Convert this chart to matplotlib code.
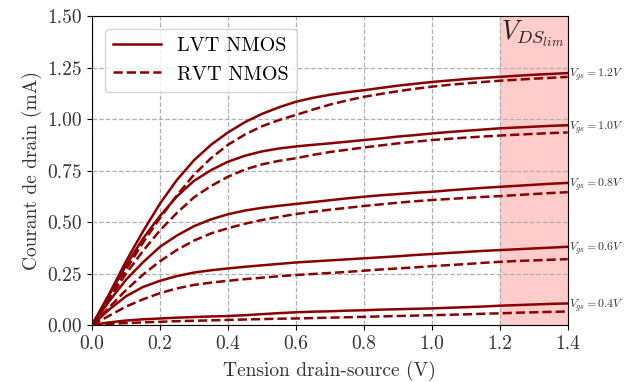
import matplotlib.pyplot as plt
import numpy as np

plt.rcParams['font.family'] = 'serif'
plt.rcParams['font.serif'] = ['cmr10']
plt.rcParams['mathtext.fontset'] = 'cm'
plt.rcParams['axes.formatter.use_mathtext'] = True

# drain-source sweep, 0 to 1.4 V by 0.05 V
vds = np.round(np.arange(0, 1.401, 0.05), 2)
vgs_labels = ["0.4", "0.6", "0.8", "1.0", "1.2"]

# drain current (mA), one row per Vgs
lvt = [
    [0, 0.013, 0.022, 0.028, 0.032, 0.036, 0.039, 0.042, 0.044, 0.048, 0.053, 0.058, 0.062, 0.065, 0.067,
     0.070, 0.072, 0.075, 0.077, 0.079, 0.081, 0.084, 0.087, 0.090, 0.094, 0.097, 0.100, 0.103, 0.105],
    [0, 0.075, 0.14, 0.185, 0.215, 0.238, 0.255, 0.266, 0.275, 0.283, 0.29, 0.297, 0.304, 0.309, 0.314,
     0.319, 0.324, 0.329, 0.334, 0.34, 0.345, 0.35, 0.355, 0.36, 0.364, 0.368, 0.372, 0.376, 0.38],
    [0, 0.115, 0.22, 0.305, 0.38, 0.435, 0.48, 0.513, 0.538, 0.556, 0.569, 0.579, 0.588, 0.597, 0.606,
     0.615, 0.623, 0.63, 0.636, 0.642, 0.647, 0.654, 0.66, 0.666, 0.671, 0.676, 0.681, 0.686, 0.69],
    [0, 0.145, 0.29, 0.42, 0.53, 0.625, 0.70, 0.752, 0.793, 0.822, 0.843, 0.857, 0.867, 0.875, 0.882,
     0.89, 0.898, 0.906, 0.915, 0.922, 0.93, 0.937, 0.943, 0.949, 0.955, 0.959, 0.963, 0.967, 0.97],
    [0, 0.15, 0.31, 0.455, 0.59, 0.705, 0.80, 0.875, 0.935, 0.985, 1.025, 1.057, 1.084, 1.103, 1.118,
     1.13, 1.14, 1.151, 1.162, 1.171, 1.18, 1.187, 1.194, 1.2, 1.205, 1.21, 1.215, 1.219, 1.223],
]
rvt = [
    [0, 0.006, 0.010, 0.013, 0.016, 0.019, 0.021, 0.023, 0.025, 0.027, 0.029, 0.031, 0.032, 0.034, 0.036,
     0.038, 0.040, 0.042, 0.044, 0.046, 0.048, 0.050, 0.052, 0.055, 0.057, 0.060, 0.062, 0.064, 0.066],
    [0, 0.045, 0.09, 0.125, 0.155, 0.178, 0.195, 0.206, 0.215, 0.223, 0.23, 0.237, 0.243, 0.248, 0.253,
     0.258, 0.264, 0.27, 0.275, 0.28, 0.286, 0.291, 0.296, 0.302, 0.307, 0.311, 0.314, 0.317, 0.32],
    [0, 0.085, 0.17, 0.245, 0.31, 0.365, 0.41, 0.445, 0.47, 0.492, 0.51, 0.525, 0.539, 0.55, 0.56,
     0.569, 0.578, 0.586, 0.594, 0.601, 0.607, 0.612, 0.617, 0.622, 0.626, 0.631, 0.636, 0.641, 0.645],
    [0, 0.125, 0.25, 0.36, 0.46, 0.545, 0.62, 0.675, 0.72, 0.755, 0.78, 0.797, 0.81, 0.826, 0.84,
     0.851, 0.862, 0.872, 0.882, 0.89, 0.898, 0.904, 0.91, 0.915, 0.92, 0.924, 0.928, 0.932, 0.935],
    [0, 0.13, 0.27, 0.40, 0.52, 0.63, 0.73, 0.81, 0.875, 0.925, 0.965, 0.995, 1.02, 1.046, 1.07,
     1.09, 1.108, 1.122, 1.135, 1.147, 1.157, 1.166, 1.173, 1.18, 1.186, 1.191, 1.196, 1.2, 1.205],
]

fig = plt.figure(figsize=(6.35, 3.82), dpi=100)
ax = fig.add_axes([0.145, 0.149, 0.749, 0.809])

col = "#8b0000"
for i in range(len(vgs_labels)):
    ax.plot(vds, lvt[i], color=col, lw=1.8, label="LVT NMOS" if i == 0 else None)
    ax.plot(vds, rvt[i], color=col, lw=1.8, ls="--", label="RVT NMOS" if i == 0 else None)
    ax.text(1.405, lvt[i][-1] - 0.01, r"$V_{gs} = %sV$" % vgs_labels[i], fontsize=8.5,
            va="center", ha="left", color="#333333")

ax.axvspan(1.2, 1.4, color="#ffcccc", zorder=0)
ax.text(1.205, 1.49, r"$V_{DS_{lim}}$", fontsize=19, va="top", ha="left", color="#222222")

ax.set_xlim(0, 1.4)
ax.set_ylim(0, 1.5)
ax.set_xticks(np.arange(0, 1.41, 0.2))
ax.set_yticks(np.arange(0, 1.51, 0.25))
ax.xaxis.set_major_formatter(plt.FormatStrFormatter("%.1f"))
ax.yaxis.set_major_formatter(plt.FormatStrFormatter("%.2f"))
ax.tick_params(labelsize=14, labelcolor="#333333")
ax.grid(True, ls="--", color="#b0b0b0", lw=0.9)
ax.set_axisbelow(True)
ax.set_xlabel("Tension drain-source (V)", fontsize=14, color="#333333", labelpad=6)
ax.set_ylabel("Courant de drain (mA)", fontsize=14, color="#333333")
ax.legend(loc="upper left", fontsize=14.5, handlelength=2.4, bbox_to_anchor=(0.005, 0.99))

plt.savefig("out.png", dpi=100)
